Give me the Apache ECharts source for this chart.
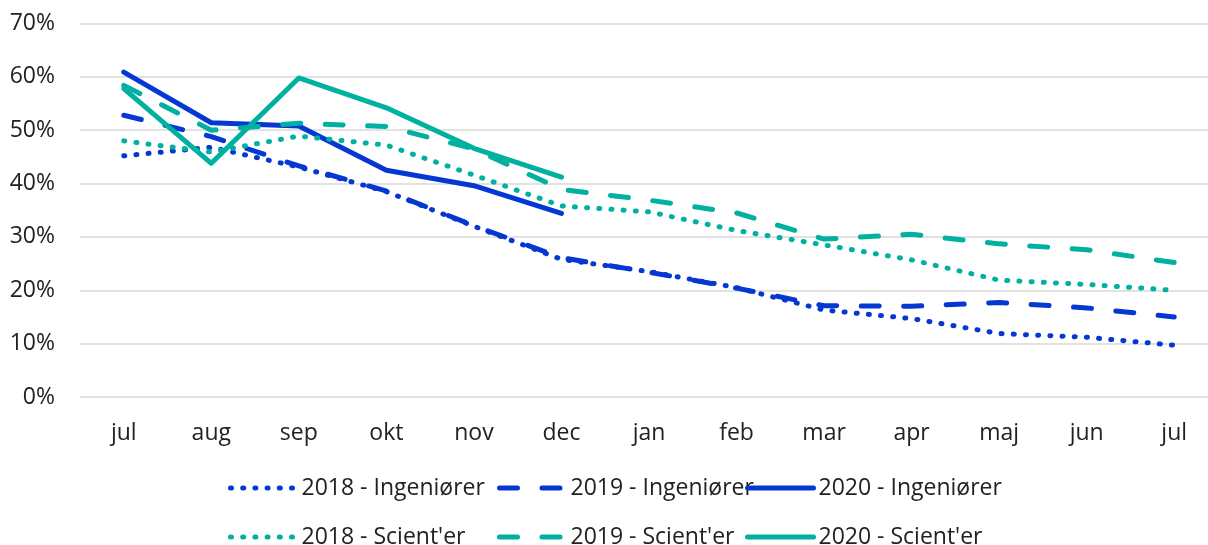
<!DOCTYPE html>
<html>
<head>
<meta charset="utf-8">
<script src="https://cdn.jsdelivr.net/npm/echarts@6/dist/echarts.min.js"></script>
<style>
  html, body { margin: 0; padding: 0; background: #fff; }
  #chart { width: 1208px; height: 545px; }
</style>
</head>
<body>
<div id="chart"></div>
<script>
const months = ['jul', 'aug', 'sep', 'okt', 'nov', 'dec', 'jan', 'feb', 'mar', 'apr', 'maj', 'jun', 'jul']

// values in percent
const ing2018 = [45.2, 46.8, 43.1, 38.5, 32.0, 25.8, 23.5, 20.5, 16.3, 14.7, 11.9, 11.2, 9.7]
const ing2019 = [52.8, 48.8, 43.3, 38.6, 32.1, 26.1, 23.4, 20.4, 17.1, 17.0, 17.7, 16.7, 15.0]
const ing2020 = [60.9, 51.4, 50.8, 42.5, 39.6, 34.4]
const sci2018 = [48.0, 45.9, 48.9, 47.2, 41.6, 35.8, 34.7, 31.2, 28.5, 25.7, 21.9, 21.1, 20.0]
const sci2019 = [58.4, 50.0, 51.3, 50.7, 46.5, 38.9, 36.9, 34.5, 29.6, 30.5, 28.7, 27.6, 25.2]
const sci2020 = [57.8, 43.8, 59.8, 54.2, 46.6, 41.2]

const BLUE = '#0538d2'
const TEAL = '#00b0a0'
const FONT = 'Open Sans'
const FS = 23

const chart = echarts.init(document.getElementById('chart'))

const DOT = [1, 11.2]
const DASH = [18, 24.5]

function line (name, data, color, type) {
  return {
    type: 'line',
    name: name,
    data: data,
    symbol: 'none',
    lineStyle: { color: color, width: 5, type: type, cap: 'round', join: 'round' },
    itemStyle: { color: color }
  }
}

// one legend per entry so the two rows line up in columns
function legend (left, top, name) {
  return {
    left: left,
    top: top,
    padding: 0,
    itemWidth: 66,
    itemHeight: 12,
    itemStyle: { opacity: 0 },
    lineStyle: { width: 5 },
    textStyle: { fontFamily: FONT, fontSize: FS, lineHeight: 24, color: '#222' },
    data: [name]
  }
}

chart.setOption({
  animation: false,
  grid: { left: 80, width: 1138, top: 23.5, bottom: 148, containLabel: false, outerBoundsMode: 'none' },
  legend: [
    legend(228, 476, '2018 - Ingeniører'),
    legend(497, 476, '2019 - Ingeniører'),
    legend(745, 476, '2020 - Ingeniører'),
    legend(228, 525, "2018 - Scient'er"),
    legend(497, 525, "2019 - Scient'er"),
    legend(745, 525, "2020 - Scient'er")
  ],
  xAxis: {
    type: 'category',
    data: months,
    boundaryGap: true,
    axisLine: { show: false },
    axisTick: { show: false },
    axisLabel: { margin: 25, fontFamily: FONT, fontSize: FS, color: '#222' }
  },
  yAxis: {
    type: 'value',
    min: 0,
    max: 70,
    interval: 10,
    axisLine: { show: false },
    axisTick: { show: false },
    splitLine: { lineStyle: { color: '#d9d9d9', width: 1.5 } },
    axisLabel: { margin: 25, fontFamily: FONT, fontSize: FS, color: '#222', formatter: '{value}%' }
  },
  series: [
    line('2018 - Ingeniører', ing2018, BLUE, DOT),
    line('2019 - Ingeniører', ing2019, BLUE, DASH),
    line('2020 - Ingeniører', ing2020, BLUE, 'solid'),
    line("2018 - Scient'er", sci2018, TEAL, DOT),
    line("2019 - Scient'er", sci2019, TEAL, DASH),
    line("2020 - Scient'er", sci2020, TEAL, 'solid')
  ]
})
</script>
</body>
</html>
